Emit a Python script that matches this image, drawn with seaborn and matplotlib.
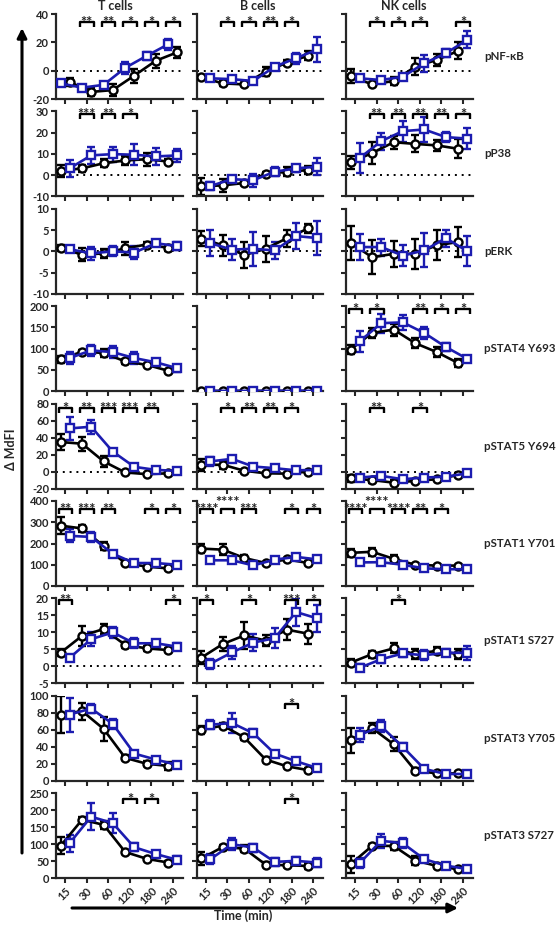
import numpy as np
import pandas as pd
import matplotlib
matplotlib.use('Agg')
import matplotlib.pyplot as plt
import seaborn as sns
from matplotlib.transforms import blended_transform_factory

# time points (categorical x axis)
times = ['15', '30', '60', '120', '180', '240']
cell_types = ['T cells', 'B cells', 'NK cells']
markers = ['pNF-κB', 'pP38', 'pERK', 'pSTAT4 Y693', 'pSTAT5 Y694',
           'pSTAT1 Y701', 'pSTAT1 S727', 'pSTAT3 Y705', 'pSTAT3 S727']

# each list: [T cells, B cells, NK cells]
nfkb_black = [[-8, -15, -13.7, -3.5, 7, 13], [-4.7, -9, -9.7, -0.7, 5.7, 10.6], [-3.8, -9.7, -7.3, 2.8, 7.6, 14]]
nfkb_black_err = [[3, 3, 4, 5, 5, 4], [1.5, 2, 1, 3, 2, 3], [5, 1, 3, 6, 4, 6]]
nfkb_blue = [[-9, -12, -10, 2, 10.5, 18.7], [-5.4, -6, -7.3, 2.8, 8.8, 15], [-5.4, -6.6, -4.3, 5.2, 12.3, 21.8]]
nfkb_blue_err = [[1.5, 1, 2, 4, 3, 4], [1, 1, 1, 1, 4, 9], [1, 1, 2, 6, 3, 6]]
nfkb_stars = [{1: '**', 2: '**', 3: '*', 4: '*', 5: '*'}, {1: '*', 2: '*', 3: '**', 4: '*'}, {1: '*', 2: '*', 3: '*', 5: '*'}]

p38_black = [[2, 3.2, 5.6, 6.9, 7.5, 6.4], [-5.3, -4.8, -3.7, 0.5, 1.6, 2.4], [6, 10.4, 15.5, 14.7, 14, 12.4]]
p38_black_err = [[3, 1.5, 2, 2, 3, 1], [4, 3, 1, 1, 2, 2], [3, 5, 3, 4, 2.5, 4.5]]
p38_blue = [[3.2, 9.3, 9.9, 9.6, 8.8, 9.3], [-5.1, -1.9, -2.4, 1.6, 3.2, 4], [8, 16, 20.7, 21.5, 17.9, 17.2]]
p38_blue_err = [[4, 4, 3.5, 5, 4, 3], [2, 1.5, 3, 2, 1.5, 4], [7, 4, 5, 6, 2.5, 5]]
p38_stars = [{1: '***', 2: '**', 3: '*'}, {}, {1: '**', 2: '**', 3: '**', 4: '**', 5: '*'}]

erk_black = [[0.8, -0.8, -0.5, 0.7, 1.6, 0.8], [3, 1.4, -0.9, 0.6, 3.1, 5.4], [2, -1.4, -0.6, -0.6, 1.4, 2.2]]
erk_black_err = [[0.8, 1.5, 1, 1.5, 0.7, 0.8], [1.8, 2.5, 3, 3, 2, 1], [4, 4, 3, 3.5, 3.5, 3.5]]
erk_blue = [[0.5, -0.5, 0, -0.3, 1.9, 1.2], [1.9, 0.4, 0.6, 0.2, 3.6, 3.1], [1, 1, -1, 0.2, 3.1, 0]]
erk_blue_err = [[0.5, 1.5, 1.2, 1.5, 0.5, 1], [3, 2.5, 4, 2, 3, 4], [3, 2, 2.5, 4, 2, 3.5]]
erk_stars = [{}, {}, {}]

stat4_black = [[75, 93, 90, 70, 62, 48], [0.4, 0.3, 0.5, 0.4, 0.6, 0.5], [98, 137, 145, 113, 92, 66]]
stat4_black_err = [[8, 5, 10, 6, 3, 3], [1, 1, 1, 1, 1, 1], [10, 12, 14, 12, 12, 10]]
stat4_blue = [[78, 96, 92, 78, 68, 54], [0.8, 0.7, 0.9, 0.8, 0.9, 0.8], [117, 160, 162, 137, 104, 76]]
stat4_blue_err = [[15, 12, 14, 14, 8, 8], [1, 1, 1, 1, 1, 1], [25, 22, 18, 13, 10, 5]]
stat4_stars = [{}, {}, {0: '*', 1: '*', 3: '**', 4: '*', 5: '*'}]

stat5_black = [[34.8, 32.8, 12, -1, -3, -2], [8, 8, 1, -2, -2.4, 0], [-8, -10, -13, -11, -9, -4]]
stat5_black_err = [[9, 8, 6, 1, 1, 1], [7, 5, 1, 1, 1, 1], [4, 3, 3, 1, 1, 2]]
stat5_blue = [[50.8, 52.8, 23.6, 5.6, 2, 0.8], [12, 15, 6, 4, 1.5, 2], [-7, -5, -9, -7, -6, -2]]
stat5_blue_err = [[14, 8, 3, 2, 1, 1], [5, 3, 2, 1, 1, 1], [2, 3, 2, 1, 3, 2]]
stat5_stars = [{0: '*', 1: '**', 2: '***', 3: '***', 4: '**'}, {1: '*', 2: '**', 3: '**', 4: '*'}, {1: '**', 3: '*'}]

stat1y_black = [[284, 271, 188, 108, 91, 83], [176, 171, 132, 108, 125, 108], [156, 161, 128, 100, 96, 96]]
stat1y_black_err = [[40, 15, 20, 5, 5, 8], [20, 25, 15, 5, 5, 10], [20, 20, 20, 5, 5, 5]]
stat1y_blue = [[236, 231, 152, 108, 108, 100], [121, 121, 97, 124, 137, 125], [111, 112, 100, 83, 79, 79]]
stat1y_blue_err = [[30, 25, 15, 8, 8, 5], [5, 5, 5, 8, 5, 10], [5, 5, 5, 5, 5, 5]]
stat1y_stars = [{0: '**', 1: '***', 2: '**', 4: '*', 5: '*'},
                {0: '****', 1: '****', 2: '***', 4: '*', 5: '*'},
                {0: '****', 1: '****', 2: '****', 3: '**', 4: '*'}]

stat1s_black = [[4, 9, 11, 6.3, 5.3, 4.8], [2.6, 6.6, 9.1, 7.6, 10.8, 9.6], [1.1, 3.6, 5.3, 3.6, 4.6, 3.6]]
stat1s_black_err = [[1, 3, 1.5, 1, 0.8, 0.5], [2, 2, 4, 1.5, 3, 3], [1, 1, 1.5, 1.5, 1, 1.5]]
stat1s_blue = [[2.5, 8, 10, 6.8, 6.8, 5.8], [0.8, 4.1, 7, 8.3, 16, 14.1], [-0.4, 2.1, 3.8, 3.3, 4, 4]]
stat1s_blue_err = [[1, 2, 1.5, 1.5, 1, 1], [1.5, 2, 2.5, 3, 4, 4], [1, 1, 1, 1.5, 1, 2]]
stat1s_stars = [{0: '**', 5: '*'}, {0: '*', 2: '*', 4: '***', 5: '*'}, {2: '*'}]

stat3y_black = [[78, 82, 61, 27, 20, 17.5], [60, 65, 51, 25, 17, 12.5], [47.6, 62, 43, 12, 8.7, 8.7]]
stat3y_black_err = [[22, 10, 14, 3, 3, 5], [5, 3, 3, 3, 2, 2], [15, 6, 8, 3, 2, 2]]
stat3y_blue = [[78, 85, 67, 32, 25, 18.6], [66, 68, 56, 32, 23, 15], [54, 64, 40, 14, 8, 8]]
stat3y_blue_err = [[20, 5, 6, 3, 3, 3], [5, 12, 5, 3, 3, 3], [8, 7, 4, 3, 2, 2]]
stat3y_stars = [{}, {4: '*'}, {}]

stat3s_black = [[95, 172, 157, 77, 57, 46], [58, 92, 87, 40, 38, 36], [41, 95, 95, 52, 36, 26]]
stat3s_black_err = [[25, 8, 12, 5, 3, 5], [20, 5, 10, 8, 5, 8], [25, 5, 12, 12, 5, 5]]
stat3s_blue = [[103, 181, 162, 91, 71, 54], [56, 100, 90, 48, 51, 46], [44, 110, 103, 56, 37, 27]]
stat3s_blue_err = [[25, 40, 30, 12, 10, 10], [15, 18, 12, 12, 12, 12], [15, 20, 15, 8, 5, 5]]
stat3s_stars = [{3: '*', 4: '*'}, {4: '*'}, {}]

y_ticks = [[-20, 0, 20, 40], [-10, 0, 10, 20, 30], [-10, -5, 0, 5, 10], [0, 50, 100, 150, 200],
           [-20, 0, 20, 40, 60, 80], [0, 100, 200, 300, 400], [-5, 0, 5, 10, 15, 20],
           [0, 20, 40, 60, 80, 100], [0, 50, 100, 150, 200, 250]]

rows = [
    (nfkb_black, nfkb_black_err, nfkb_blue, nfkb_blue_err, nfkb_stars),
    (p38_black, p38_black_err, p38_blue, p38_blue_err, p38_stars),
    (erk_black, erk_black_err, erk_blue, erk_blue_err, erk_stars),
    (stat4_black, stat4_black_err, stat4_blue, stat4_blue_err, stat4_stars),
    (stat5_black, stat5_black_err, stat5_blue, stat5_blue_err, stat5_stars),
    (stat1y_black, stat1y_black_err, stat1y_blue, stat1y_blue_err, stat1y_stars),
    (stat1s_black, stat1s_black_err, stat1s_blue, stat1s_blue_err, stat1s_stars),
    (stat3y_black, stat3y_black_err, stat3y_blue, stat3y_blue_err, stat3y_stars),
    (stat3s_black, stat3s_black_err, stat3s_blue, stat3s_blue_err, stat3s_stars),
]

# layout (pixels of a 560x925 canvas)
W, H = 560, 925
col_left = [56, 197, 346]
col_w = [127, 126, 127]
row_top, row_pitch, row_h = 14, 97.4, 85
bracket_y = [0.91, 0.965, 0.95, 0.965, 0.95, 0.91, 0.98, 0.905, 0.93]
swapped = {(0, 0)}          # panel where blue sits left of black
raised = {(5, 1): [1], (5, 2): [1]}
BLUE = '#1c1cb0'
dodge = 0.21

sns.set_theme(style='ticks')
plt.rcParams['font.family'] = ['Lato', 'DejaVu Sans']
plt.rcParams['font.weight'] = 'bold'
plt.rcParams['axes.linewidth'] = 1.6

fig = plt.figure(figsize=(W / 100, H / 100), dpi=100)

for r, (bk, bk_err, bl, bl_err, stars) in enumerate(rows):
    top = row_top + r * row_pitch
    ticks = y_ticks[r]
    for c in range(3):
        ax = fig.add_axes([col_left[c] / W, 1 - (top + row_h) / H, col_w[c] / W, row_h / H])
        off = -dodge if (r, c) not in swapped else dodge
        x = np.arange(len(times))
        if ticks[0] < 0:
            ax.axhline(0, ls=(0, (1, 2.5)), color='black', lw=1.4, zorder=1)
        for vals, errs, col, mk, o in [(bk[c], bk_err[c], 'black', 'o', off),
                                       (bl[c], bl_err[c], BLUE, 's', -off)]:
            df = pd.DataFrame({'time': x + o, 'value': vals})
            ax.errorbar(df['time'], df['value'], yerr=errs, fmt='none', ecolor=col,
                        elinewidth=1.7, capsize=2.6, capthick=1.7, zorder=2)
            sns.lineplot(data=df, x='time', y='value', ax=ax, color=col, marker=mk,
                         markersize=5.8, markerfacecolor='white', markeredgecolor=col,
                         markeredgewidth=1.7, lw=1.9, zorder=3)
        ax.set_xlim(-0.42, 5.47)
        ax.set_ylim(ticks[0], ticks[-1])
        ax.set_yticks(ticks)
        ax.set_xticks(x)
        ax.set_xlabel('')
        ax.set_ylabel('')
        sns.despine(ax=ax)
        ax.tick_params(length=3.5, width=1.5, labelsize=8, pad=1.5)
        if c == 0:
            ax.set_yticklabels([str(t) for t in ticks], fontweight='bold')
        else:
            ax.set_yticklabels([])
        if r == len(rows) - 1:
            ax.set_xticklabels(times, rotation=45, ha='right', rotation_mode='anchor',
                               fontweight='bold')
        else:
            ax.set_xticklabels([])

        # significance brackets
        trans = blended_transform_factory(ax.transData, ax.transAxes)
        yb = bracket_y[r]
        for idx, label in stars[c].items():
            ax.plot([idx - 0.3, idx - 0.3, idx + 0.32, idx + 0.32],
                    [yb - 0.06, yb, yb, yb - 0.06], transform=trans,
                    color='black', lw=1.7, clip_on=False, solid_capstyle='butt')
            ty = yb - 0.06 + (0.08 if idx in raised.get((r, c), []) else 0)
            ax.text(idx + 0.01, ty, label, transform=trans, ha='center', va='baseline',
                    fontsize=10.5, fontweight='bold', color='#222222', clip_on=False)

    fig.text(484 / W, 1 - (top + row_h / 2) / H, markers[r], fontsize=8.3,
             fontweight='bold', va='center', ha='left')

for name, cx in zip(cell_types, [115, 258, 404]):
    fig.text(cx / W, 1 - 6 / H, name, fontsize=9, fontweight='bold', ha='center', va='center')

# overlay for arrows and axis titles
ov = fig.add_axes([0, 0, 1, 1], zorder=-1)
ov.set_xlim(0, W)
ov.set_ylim(H, 0)
ov.axis('off')
ov.annotate('', xy=(458, 908), xytext=(72, 908),
            arrowprops=dict(arrowstyle='-|>', lw=2.2, color='black', mutation_scale=14,
                            shrinkA=0, shrinkB=0))
ov.annotate('', xy=(22, 28), xytext=(22, 853),
            arrowprops=dict(arrowstyle='-|>', lw=2.2, color='black', mutation_scale=14,
                            shrinkA=0, shrinkB=0))
ov.text(243, 916, 'Time (min)', fontsize=9, fontweight='bold', ha='center', va='center')
ov.text(11, 449, 'Δ MdFI', fontsize=9, fontweight='bold', ha='center', va='center',
        rotation=90)

fig.savefig('out.png', dpi=100)
